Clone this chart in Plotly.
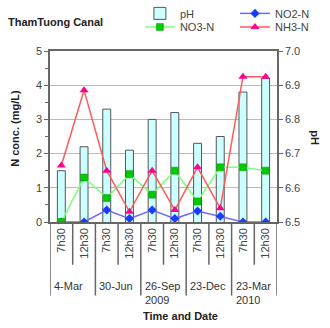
import plotly.graph_objects as go

times = ["7h30", "12h30", "7h30", "12h30", "7h30", "12h30", "7h30", "12h30", "7h30", "12h30"]
dates = ["4-Mar", "30-Jun", "26-Sep<br>2009", "23-Dec", "23-Mar<br>2010"]
ph = [6.65, 6.72, 6.83, 6.71, 6.80, 6.82, 6.73, 6.75, 6.88, 6.92]
no2 = [0.0, 0.0, 0.35, 0.1, 0.35, 0.1, 0.32, 0.17, 0.0, 0.0]
no3 = [0.0, 1.3, 0.7, 1.4, 0.8, 1.5, 0.6, 1.6, 1.6, 1.5]
nh3 = [1.65, 3.85, 1.5, 0.3, 1.5, 0.35, 1.6, 0.4, 4.25, 4.25]

FONT = "Liberation Sans"
x = list(range(len(times)))

fig = go.Figure()
fig.add_trace(go.Bar(x=x, y=ph, name="pH", yaxis="y", width=0.35, showlegend=True,
                     marker=dict(color="#ccffff", line=dict(color="#555555", width=1)),
                     legend="legend2"))
fig.add_trace(go.Scatter(x=x, y=no2, name="NO2-N", yaxis="y2", mode="lines+markers",
                         line=dict(color="#6b6bff", width=1.5), showlegend=True,
                         marker=dict(symbol="diamond", color="#1a3cff", size=7),
                         legend="legend3"))
fig.add_trace(go.Scatter(x=x, y=no3, name="NO3-N", yaxis="y2", mode="lines+markers",
                         line=dict(color="#7dff7d", width=1.5), showlegend=True,
                         marker=dict(symbol="square", color="#00cc00", size=7,
                                     line=dict(color="#009900", width=0.5)),
                         legend="legend4"))
fig.add_trace(go.Scatter(x=x, y=nh3, name="NH3-N", yaxis="y2", mode="lines+markers",
                         line=dict(color="#ff5a5a", width=1.5), showlegend=True,
                         marker=dict(symbol="triangle-up", color="#ff0090", size=8),
                         legend="legend5"))

shapes = []
for i in range(len(times) + 1):
    b = i - 0.5
    long_line = (i % 2 == 0)
    shapes.append(dict(type="line", xref="x", yref="paper", x0=b, x1=b,
                       y0=0, y1=-0.43 if long_line else -0.25,
                       line=dict(color="#666666", width=1.5)))

annotations = []
for g, d in enumerate(dates):
    annotations.append(dict(text=d, xref="x", yref="paper", x=2 * g - 0.5, y=-0.325,
                            xanchor="left", yanchor="top", align="left", showarrow=False,
                            xshift=2, font=dict(family=FONT, size=11, color="#333333")))
annotations.append(dict(text="<b>Time and Date</b>", xref="paper", yref="paper",
                        x=0.577, y=-0.55, showarrow=False, xanchor="center", yanchor="middle",
                        font=dict(family=FONT, size=11, color="#222222")))
annotations.append(dict(text="<b>N conc. (mg/L)</b>", xref="paper", yref="paper",
                        x=-0.155, y=0.55, textangle=-90, showarrow=False,
                        xanchor="center", yanchor="middle",
                        font=dict(family=FONT, size=11, color="#222222")))
annotations.append(dict(text="<b>pH</b>", xref="paper", yref="paper",
                        x=1.167, y=0.49, textangle=90, showarrow=False,
                        xanchor="center", yanchor="middle",
                        font=dict(family=FONT, size=11, color="#222222")))
annotations.append(dict(text="<b>ThamTuong Canal</b>", xref="paper", yref="paper",
                        x=-0.195, y=1.17, showarrow=False, xanchor="left", yanchor="middle",
                        font=dict(family=FONT, size=11, color="#222222")))

def leg(xp, yp):
    return dict(x=xp, y=yp, xanchor="left", yanchor="middle", orientation="h",
                bgcolor="rgba(0,0,0,0)", font=dict(size=11, color="#444444"), itemwidth=30)

fig.update_layout(
    width=330, height=328,
    margin=dict(l=50, r=53, t=51, b=106, autoexpand=False),
    paper_bgcolor="white", plot_bgcolor="white",
    font=dict(family=FONT, size=11, color="#444444"),
    showlegend=True,
    xaxis=dict(range=[-0.5, 9.5], tickmode="array", tickvals=x, ticktext=times,
               tickangle=-90, ticks="", showgrid=False, showline=True,
               linecolor="#666666", linewidth=1.5, mirror=True, zeroline=False,
               tickfont=dict(size=11, color="#444444")),
    yaxis=dict(range=[6.5, 7.0], side="right", dtick=0.1, tickformat=".1f",
               showgrid=False, zeroline=False, showline=True, linecolor="#666666",
               linewidth=1.5, ticks="outside", ticklen=4, tickcolor="#666666",
               tickfont=dict(size=11, color="#444444")),
    yaxis2=dict(range=[0, 5], overlaying="y", side="left", dtick=1,
                showgrid=True, gridcolor="#bbbbbb", gridwidth=1, zeroline=False,
                showline=True, linecolor="#666666", linewidth=1.5,
                ticks="outside", ticklen=4, tickcolor="#666666",
                minor=dict(dtick=0.5, ticks="outside", ticklen=3, tickcolor="#666666"),
                tickfont=dict(size=11, color="#444444")),
    legend2=leg(0.396, 1.22),
    legend3=leg(0.815, 1.22),
    legend4=leg(0.396, 1.14),
    legend5=leg(0.815, 1.14),
    shapes=shapes,
    annotations=annotations,
)

fig.write_html("out.html")
